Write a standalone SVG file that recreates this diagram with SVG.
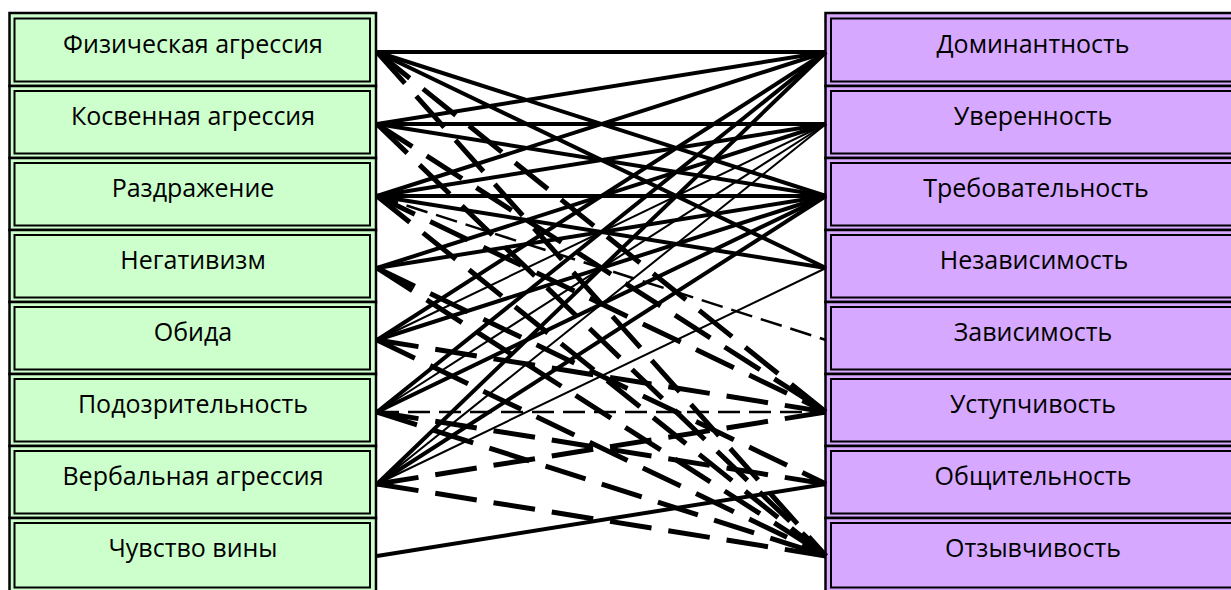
<svg xmlns="http://www.w3.org/2000/svg" width="1231" height="590" viewBox="0 0 1231 590">
<style>
.o{stroke:#000;stroke-width:2.5}
.g{fill:#CCFFCC}
.p{fill:#D6A8FF}
.i{fill:none;stroke:#000;stroke-width:2}
text{font-family:"Open Sans","Liberation Sans",sans-serif;font-size:25px;fill:#000;text-anchor:middle}
#connectors line{stroke:#000;fill:none}
.s{stroke-width:4}
.t{stroke-width:2}
.d{stroke-width:5;stroke-dasharray:42 17}
.dt{stroke-width:2.5;stroke-dasharray:22 9}
</style>
<rect width="1231" height="590" fill="#fff"/>
<g id="left">
<g id="n-fiz"><rect class="o g" x="9.5" y="13" width="366.5" height="73"/><rect class="i" x="14.5" y="18.5" width="355.5" height="63"/><text x="193" y="53">Физическая агрессия</text></g>
<g id="n-kosv"><rect class="o g" x="9.5" y="86" width="366.5" height="72"/><rect class="i" x="14.5" y="91" width="355.5" height="62.5"/><text x="193" y="125">Косвенная агрессия</text></g>
<g id="n-razdr"><rect class="o g" x="9.5" y="158" width="366.5" height="72"/><rect class="i" x="14.5" y="163" width="355.5" height="62.5"/><text x="193" y="197">Раздражение</text></g>
<g id="n-neg"><rect class="o g" x="9.5" y="230" width="366.5" height="72"/><rect class="i" x="14.5" y="235" width="355.5" height="62.5"/><text x="193" y="269">Негативизм</text></g>
<g id="n-obida"><rect class="o g" x="9.5" y="302" width="366.5" height="72"/><rect class="i" x="14.5" y="307" width="355.5" height="62.5"/><text x="193" y="341">Обида</text></g>
<g id="n-podoz"><rect class="o g" x="9.5" y="374" width="366.5" height="72"/><rect class="i" x="14.5" y="379" width="355.5" height="62.5"/><text x="193" y="413">Подозрительность</text></g>
<g id="n-verb"><rect class="o g" x="9.5" y="446" width="366.5" height="72"/><rect class="i" x="14.5" y="451" width="355.5" height="62.5"/><text x="193" y="485">Вербальная агрессия</text></g>
<g id="n-vina"><rect class="o g" x="9.5" y="518" width="366.5" height="78"/><rect class="i" x="14.5" y="523" width="355.5" height="64.5"/><text x="193" y="557">Чувство вины</text></g>
</g>
<g id="right">
<g id="n-dom"><rect class="o p" x="825.5" y="13" width="420" height="73"/><rect class="i" x="831" y="18.5" width="420" height="63"/><text x="1033" y="53">Доминантность</text></g>
<g id="n-uver"><rect class="o p" x="825.5" y="86" width="420" height="72"/><rect class="i" x="831" y="91" width="420" height="62.5"/><text x="1033" y="125">Уверенность</text></g>
<g id="n-treb"><rect class="o p" x="825.5" y="158" width="420" height="72"/><rect class="i" x="831" y="163" width="420" height="62.5"/><text x="1036" y="197">Требовательность</text></g>
<g id="n-nezav"><rect class="o p" x="825.5" y="230" width="420" height="72"/><rect class="i" x="831" y="235" width="420" height="62.5"/><text x="1034" y="269">Независимость</text></g>
<g id="n-zav"><rect class="o p" x="825.5" y="302" width="420" height="72"/><rect class="i" x="831" y="307" width="420" height="62.5"/><text x="1033" y="341">Зависимость</text></g>
<g id="n-ustup"><rect class="o p" x="825.5" y="374" width="420" height="72"/><rect class="i" x="831" y="379" width="420" height="62.5"/><text x="1033" y="413">Уступчивость</text></g>
<g id="n-obsh"><rect class="o p" x="825.5" y="446" width="420" height="72"/><rect class="i" x="831" y="451" width="420" height="62.5"/><text x="1033" y="485">Общительность</text></g>
<g id="n-otz"><rect class="o p" x="825.5" y="518" width="420" height="78"/><rect class="i" x="831" y="523" width="420" height="64.5"/><text x="1033" y="557">Отзывчивость</text></g>
</g>
<g id="connectors">
<line class="s" x1="377" y1="52" x2="826" y2="52"/>
<line class="s" x1="377" y1="52" x2="826" y2="196"/>
<line class="s" x1="377" y1="52" x2="826" y2="268"/>
<line class="s" x1="377" y1="124" x2="826" y2="52"/>
<line class="s" x1="377" y1="124" x2="826" y2="124"/>
<line class="s" x1="377" y1="124" x2="826" y2="196"/>
<line class="s" x1="377" y1="196" x2="826" y2="52"/>
<line class="s" x1="377" y1="196" x2="826" y2="124"/>
<line class="s" x1="377" y1="196" x2="826" y2="196"/>
<line class="s" x1="377" y1="196" x2="826" y2="268"/>
<line class="s" x1="377" y1="268" x2="826" y2="124"/>
<line class="s" x1="377" y1="268" x2="826" y2="196"/>
<line class="s" x1="377" y1="340" x2="826" y2="52"/>
<line class="s" x1="377" y1="340" x2="826" y2="196"/>
<line class="s" x1="377" y1="412" x2="826" y2="52"/>
<line class="s" x1="377" y1="412" x2="826" y2="196"/>
<line class="s" x1="377" y1="484" x2="826" y2="52"/>
<line class="s" x1="377" y1="484" x2="826" y2="196"/>
<line class="s" x1="377" y1="556" x2="826" y2="484"/>
<line class="t" x1="377" y1="340" x2="826" y2="124"/>
<line class="t" x1="377" y1="412" x2="826" y2="124"/>
<line class="t" x1="377" y1="484" x2="826" y2="124"/>
<line class="t" x1="377" y1="484" x2="826" y2="268"/>
<line class="d" x1="377" y1="52" x2="826" y2="412"/>
<line class="d" x1="377" y1="52" x2="826" y2="556"/>
<line class="d" x1="377" y1="124" x2="826" y2="412"/>
<line class="d" x1="377" y1="124" x2="826" y2="556"/>
<line class="d" x1="377" y1="196" x2="826" y2="412"/>
<line class="d" x1="377" y1="196" x2="826" y2="556"/>
<line class="d" x1="377" y1="268" x2="826" y2="484"/>
<line class="d" x1="377" y1="268" x2="826" y2="556"/>
<line class="d" x1="377" y1="340" x2="826" y2="412"/>
<line class="d" x1="377" y1="340" x2="826" y2="556"/>
<line class="d" x1="377" y1="412" x2="826" y2="484"/>
<line class="d" x1="377" y1="412" x2="826" y2="556"/>
<line class="d" x1="377" y1="484" x2="826" y2="412"/>
<line class="d" x1="377" y1="484" x2="826" y2="556"/>
<line class="dt" x1="377" y1="196" x2="826" y2="340"/>
<line class="dt" x1="377" y1="412" x2="826" y2="412"/>
</g>
</svg>
